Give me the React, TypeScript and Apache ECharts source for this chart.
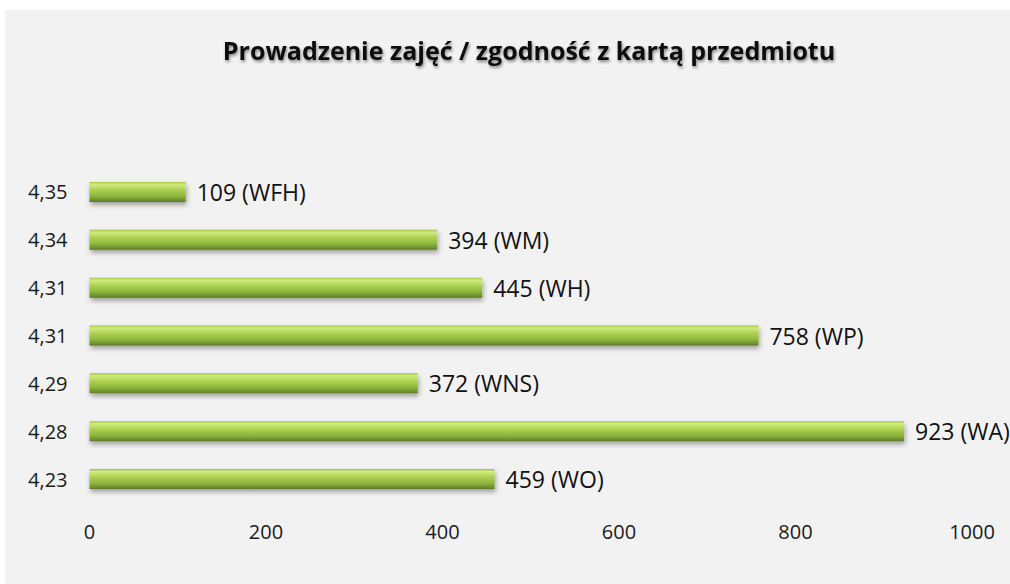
import React, { useEffect, useRef } from "react";
import * as echarts from "echarts";

// Bottom-to-top order, as the category axis draws it
const ratings = ["4,23", "4,28", "4,29", "4,31", "4,31", "4,34", "4,35"];
const counts = [459, 923, 372, 758, 445, 394, 109];
const faculties = ["WO", "WA", "WNS", "WP", "WH", "WM", "WFH"];
const xTicks = [0, 200, 400, 600, 800, 1000];
const titleText = "Prowadzenie zajęć / zgodność z kartą przedmiotu";

export default function App() {
  const ref = useRef<HTMLDivElement>(null);

  useEffect(() => {
    document.body.style.margin = "0";
    if (!ref.current) return;
    const chart = echarts.init(ref.current, undefined, { renderer: "svg" });
    const font = "'Open Sans', 'Noto Sans', sans-serif";
    chart.setOption({
      animation: false,
      backgroundColor: "#f2f2f2",
      title: {
        text: titleText,
        left: 519,
        textAlign: "center",
        top: 22,
        textStyle: {
          fontFamily: font,
          fontWeight: "bold",
          fontSize: 25,
          color: "#111",
          textShadowColor: "rgba(0,0,0,0.45)",
          textShadowBlur: 3,
          textShadowOffsetX: 1,
          textShadowOffsetY: 2,
        },
      },
      grid: { left: 84.5, right: 38, top: 158, height: 335, containLabel: false },
      xAxis: {
        type: "value",
        min: xTicks[0],
        max: xTicks[xTicks.length - 1],
        interval: 200,
        axisLine: { show: false },
        axisTick: { show: false },
        splitLine: { show: false },
        axisLabel: {
          margin: 18,
          fontFamily: font,
          fontSize: 20,
          color: "#1a1a1a",
          formatter: (v: number) => String(v),
        },
      },
      yAxis: {
        type: "category",
        data: ratings.map((_, i) => String(i)),
        axisLine: { show: false },
        axisTick: { show: false },
        splitLine: { show: false },
        axisLabel: {
          margin: 22,
          fontFamily: font,
          fontSize: 20,
          color: "#1a1a1a",
          formatter: (v: string) => ratings[Number(v)],
        },
      },
      series: [
        {
          type: "bar",
          data: counts,
          barWidth: 20,
          itemStyle: {
            color: new echarts.graphic.LinearGradient(0, 0, 0, 1, [
              { offset: 0, color: "#9cc443" },
              { offset: 0.12, color: "#d2ec80" },
              { offset: 0.35, color: "#b2d557" },
              { offset: 0.7, color: "#8fb63b" },
              { offset: 0.9, color: "#6f9130" },
              { offset: 1, color: "#5a7726" },
            ]),
            shadowColor: "rgba(0,0,0,0.35)",
            shadowBlur: 5,
            shadowOffsetY: 3,
            shadowOffsetX: 1,
          },
          label: {
            show: true,
            position: "right",
            distance: 11,
            fontFamily: font,
            fontSize: 23,
            color: "#111",
            formatter: (p: any) => `${counts[p.dataIndex]} (${faculties[p.dataIndex]})`,
          },
        },
      ],
    });
    return () => chart.dispose();
  }, []);

  return (
    <div style={{ position: "relative", width: 1010, height: 584, background: "#fff", overflow: "hidden" }}>
      <div
        ref={ref}
        style={{ position: "absolute", left: 5, top: 10, width: 1005, height: 574 }}
      />
    </div>
  );
}
